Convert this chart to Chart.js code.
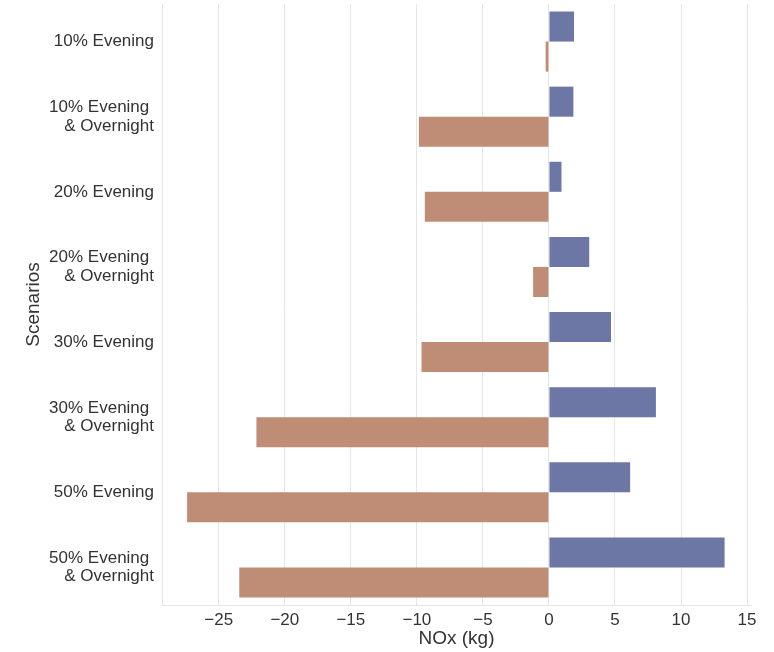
<!DOCTYPE html>
<html>
<head>
<meta charset="utf-8">
<script src="https://cdn.jsdelivr.net/npm/chart.js@4/dist/chart.umd.min.js"></script>
<style>
    html, body { margin: 0; padding: 0; background: #ffffff; }
    #wrap { position: relative; width: 774px; height: 652px; }
</style>
</head>
<body>
<div id="wrap"><canvas id="chart"></canvas></div>
<script>
// 场景标签（多行）
const scenarios = [
    '10% Evening',
    ['10% Evening ', '& Overnight'],
    '20% Evening',
    ['20% Evening ', '& Overnight'],
    '30% Evening',
    ['30% Evening ', '& Overnight'],
    '50% Evening',
    ['50% Evening ', '& Overnight']
];

// 两组数据 (kg)
const blueValues = [1.9, 1.85, 0.95, 3.05, 4.7, 8.1, 6.15, 13.3];
const brownValues = [-0.25, -9.85, -9.4, -1.2, -9.65, -22.15, -27.4, -23.45];

// x 轴刻度
const xTicks = [-25, -20, -15, -10, -5, 0, 5, 10, 15];

const textColor = '#333333';
const gridColor = '#e6e6e6';
const fontFamily = '"Liberation Sans", Arial, sans-serif';

const ctx = document.getElementById('chart').getContext('2d');
const chart = new Chart(ctx, {
    type: 'bar',
    data: {
        labels: scenarios,
        datasets: [
            {
                label: 'Series 1',
                data: blueValues,
                backgroundColor: 'rgb(108, 119, 165)',
                borderWidth: 0
            },
            {
                label: 'Series 2',
                data: brownValues,
                backgroundColor: 'rgb(191, 141, 117)',
                borderWidth: 0
            }
        ]
    },
    options: {
        indexAxis: 'y',
        responsive: true,
        maintainAspectRatio: false,
        animation: false,
        layout: {
            padding: { top: 4, right: 23, bottom: 2, left: 0 }
        },
        datasets: {
            bar: {
                categoryPercentage: 0.8,
                barPercentage: 1.0
            }
        },
        plugins: {
            legend: { display: false },
            tooltip: { enabled: false }
        },
        scales: {
            x: {
                type: 'linear',
                min: -29.3,
                max: 15.3,
                afterBuildTicks: function(scale) {
                    scale.ticks = xTicks.map(v => ({ value: v }));
                },
                afterFit: function(scale) {
                    scale.height = 45;
                },
                grid: {
                    color: gridColor,
                    lineWidth: 1,
                    drawTicks: false
                },
                border: {
                    display: true,
                    color: gridColor,
                    width: 1
                },
                ticks: {
                    color: textColor,
                    padding: 5,
                    maxRotation: 0,
                    font: { family: fontFamily, size: 17 },
                    callback: function(value) {
                        return value < 0 ? '\u2212' + Math.abs(value) : String(value);
                    }
                },
                title: {
                    display: true,
                    text: 'NOx (kg)',
                    color: textColor,
                    padding: { top: 0, bottom: 0 },
                    font: { family: fontFamily, size: 19, lineHeight: 1.2 }
                }
            },
            y: {
                type: 'category',
                afterFit: function(scale) {
                    scale.width = 162;
                    // 去掉多行标签带来的上下留白
                    scale.paddingTop = 0;
                    scale.paddingBottom = 0;
                },
                grid: {
                    display: false,
                    drawTicks: false
                },
                border: {
                    display: true,
                    color: gridColor,
                    width: 1
                },
                ticks: {
                    color: textColor,
                    padding: 8,
                    font: { family: fontFamily, size: 17, lineHeight: 1.1 }
                },
                title: {
                    display: true,
                    text: 'Scenarios',
                    color: textColor,
                    padding: { top: 22, bottom: 0 },
                    font: { family: fontFamily, size: 19, lineHeight: 1.2 }
                }
            }
        }
    }
});
</script>
</body>
</html>
